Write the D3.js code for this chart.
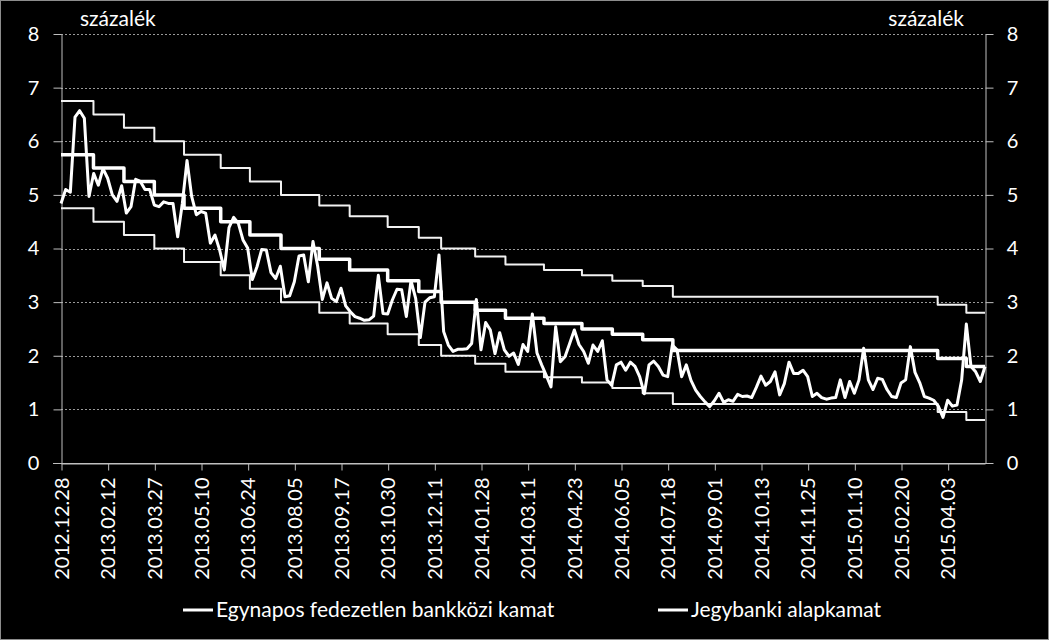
<!DOCTYPE html>
<html>
<head>
<meta charset="utf-8">
<script src="https://cdn.jsdelivr.net/npm/d3@7"></script>
<style>
  html, body { margin: 0; padding: 0; background: #000; }
  svg { display: block; }
  text { font-family: Lato, "Open Sans", sans-serif; fill: #ffffff; }
</style>
</head>
<body>
<svg id="chart" width="1049" height="640"></svg>
<script>
// ---------------- DATA ----------------
const tickLabels = ["2012.12.28","2013.02.12","2013.03.27","2013.05.10","2013.06.24","2013.08.05",
  "2013.09.17","2013.10.30","2013.12.11","2014.01.28","2014.03.11","2014.04.23","2014.06.05",
  "2014.07.18","2014.09.01","2014.10.13","2014.11.25","2015.01.10","2015.02.20","2015.04.03"];
const tickEvery = 30;          // trading days between axis labels
const lastDate = "2015.05.11";
const lastDayIndex = 594;

const policyDates = ["2012.12.28","2013.01.29","2013.02.27","2013.03.27","2013.04.24","2013.05.29",
  "2013.06.26","2013.07.24","2013.08.28","2013.09.25","2013.10.30","2013.11.27","2013.12.18",
  "2014.01.22","2014.02.19","2014.03.26","2014.04.30","2014.05.28","2014.06.25","2014.07.23",
  "2015.03.25","2015.04.22"];
const policyRates   = [5.75,5.50,5.25,5.00,4.75,4.50,4.25,4.00,3.80,3.60,3.40,3.20,3.00,2.85,2.70,2.60,2.50,2.40,2.30,2.10,1.95,1.80];
const corridorUpper = [6.75,6.50,6.25,6.00,5.75,5.50,5.25,5.00,4.80,4.60,4.40,4.20,4.00,3.85,3.70,3.60,3.50,3.40,3.30,3.10,2.95,2.80];
const corridorLower = [4.75,4.50,4.25,4.00,3.75,3.50,3.25,3.00,2.80,2.60,2.40,2.20,2.00,1.85,1.70,1.60,1.50,1.40,1.30,1.10,0.95,0.80];

const overnightStep = 3;       // trading days between readings
const overnightRates = [
  4.84,5.10,5.05,6.45,6.57,6.43,4.97,5.40,5.18,5.49,5.31,5.00,4.88,5.17,4.66,4.78,5.29,5.25,5.10,5.10,
  4.81,4.78,4.87,4.84,4.84,4.22,4.84,5.64,4.97,4.63,4.69,4.66,4.10,4.25,3.97,3.60,4.39,4.58,4.47,4.16,
  4.01,3.42,3.66,3.98,3.97,3.55,3.44,3.67,3.10,3.12,3.38,3.86,3.88,3.38,4.13,3.67,3.05,3.36,3.07,3.01,
  3.26,2.93,2.82,2.73,2.70,2.66,2.67,2.74,3.50,2.79,2.78,3.04,3.24,3.23,2.73,3.40,3.07,2.34,3.00,3.08,
  3.10,3.88,2.45,2.20,2.08,2.12,2.12,2.13,2.23,3.05,2.11,2.62,2.48,2.04,2.43,2.11,1.99,2.05,1.84,2.21,
  2.08,2.78,2.05,1.83,1.63,1.42,2.54,1.89,1.98,2.23,2.48,2.21,2.08,1.86,2.20,2.08,2.28,1.55,1.45,1.83,
  1.88,1.73,1.88,1.80,1.61,1.29,1.83,1.90,1.80,1.64,1.61,2.20,2.11,1.61,1.83,1.54,1.36,1.24,1.14,1.05,
  1.16,1.30,1.13,1.18,1.15,1.28,1.24,1.25,1.22,1.41,1.62,1.45,1.52,1.70,1.27,1.48,1.88,1.67,1.67,1.73,
  1.61,1.24,1.30,1.22,1.19,1.21,1.22,1.55,1.22,1.52,1.30,1.55,2.14,1.55,1.37,1.58,1.56,1.37,1.24,1.22,
  1.49,1.55,2.17,1.69,1.50,1.24,1.21,1.17,1.06,0.85,1.17,1.06,1.08,1.55,2.59,1.80,1.70,1.52,1.80
];

const yTicks = [0,1,2,3,4,5,6,7,8];
const unitLabel = "százalék";
const seriesNames = ["Egynapos fedezetlen bankközi kamat", "Jegybanki alapkamat"];

// ---------------- LAYOUT ----------------
const W = 1049, H = 640;
const plot = { left: 61, right: 985, top: 34, bottom: 463 };
const axisColor = "#bfbfbf";

const parse = d3.timeParse("%Y.%m.%d");
const tickDates = tickLabels.map(parse);

// calendar date -> trading-day position (piecewise between labelled dates)
const dayIndex = d3.scaleTime()
  .domain([...tickDates, parse(lastDate)])
  .range([...tickDates.map((d, i) => i * tickEvery), lastDayIndex]);

const x = d3.scaleLinear().domain([0, lastDayIndex]).range([plot.left, plot.right]);
const y = d3.scaleLinear().domain([0, 8]).range([plot.bottom, plot.top]);

const svg = d3.select("#chart");
svg.append("rect").attr("x", 0).attr("y", 0).attr("width", W).attr("height", H).attr("fill", "#000");
svg.append("rect").attr("x", 0.5).attr("y", 0.5).attr("width", W - 1).attr("height", H - 1)
  .attr("fill", "none").attr("stroke", "#8c8c8c").attr("stroke-width", 1);

// gridlines
svg.append("g").selectAll("line").data(yTicks.filter(v => v > 0)).join("line")
  .attr("x1", plot.left).attr("x2", plot.right)
  .attr("y1", d => Math.round(y(d)) + 0.5).attr("y2", d => Math.round(y(d)) + 0.5)
  .attr("stroke", "#9a9a9a").attr("stroke-width", 1).attr("stroke-dasharray", "2,2");

// y axes
function styleAxis(g) {
  g.selectAll("path.domain").attr("stroke", axisColor);
  g.selectAll(".tick line").attr("stroke", axisColor);
  g.selectAll(".tick text").style("font-size", "20px").attr("fill", "#fff");
}
const yLeft = svg.append("g").attr("transform", `translate(${plot.left + 0.5},0)`)
  .call(d3.axisLeft(y).tickValues(yTicks).tickFormat(d3.format("d")).tickSize(8).tickSizeOuter(0).tickPadding(14))
  .call(styleAxis);
yLeft.selectAll(".tick text").attr("text-anchor", "middle").attr("x", -28);
const yRight = svg.append("g").attr("transform", `translate(${plot.right + 0.5},0)`)
  .call(d3.axisRight(y).tickValues(yTicks).tickFormat(d3.format("d")).tickSize(8).tickSizeOuter(0).tickPadding(14))
  .call(styleAxis);
yRight.selectAll(".tick text").attr("text-anchor", "middle").attr("x", 27);

// x axis
const xTickVals = tickLabels.map((d, i) => i * tickEvery);
const xAxisG = svg.append("g").attr("transform", `translate(0,${plot.bottom + 0.5})`)
  .call(d3.axisBottom(x).tickValues(xTickVals).tickFormat((d, i) => tickLabels[i]).tickSize(7).tickSizeOuter(0))
  .call(styleAxis);
xAxisG.selectAll(".tick line").attr("transform", "translate(0.5,0)");
xAxisG.selectAll(".tick text")
  .attr("transform", "rotate(-90)")
  .attr("text-anchor", "end")
  .attr("x", -14).attr("y", 0).attr("dy", "0.36em");
// zero line extends under both outer ticks
svg.append("line").attr("x1", plot.left - 8).attr("x2", plot.right + 8)
  .attr("y1", plot.bottom + 0.5).attr("y2", plot.bottom + 0.5).attr("stroke", axisColor);

// unit labels
svg.append("text").attr("x", 80).attr("y", 26).style("font-size", "21px").text(unitLabel);
svg.append("text").attr("x", 964).attr("y", 26).attr("text-anchor", "end").style("font-size", "21px").text(unitLabel);

// series
const stepLine = d3.line().x(d => x(d[0])).y(d => y(d[1])).curve(d3.curveStepAfter);
function stepPoints(vals) {
  const pts = policyDates.map((d, i) => [dayIndex(parse(d)), vals[i]]);
  pts.push([lastDayIndex, vals[vals.length - 1]]);
  return pts;
}
const lines = svg.append("g").attr("fill", "none").attr("stroke-linejoin", "round");
lines.append("path").attr("d", stepLine(stepPoints(corridorUpper))).attr("stroke", "#f2f2f2").attr("stroke-width", 2);
lines.append("path").attr("d", stepLine(stepPoints(corridorLower))).attr("stroke", "#f2f2f2").attr("stroke-width", 2);
lines.append("path").attr("d", stepLine(stepPoints(policyRates))).attr("stroke", "#fff").attr("stroke-width", 3.5);

const onLine = d3.line().x(d => x(d[0])).y(d => y(d[1]));
lines.append("path").attr("d", onLine(overnightRates.map((v, k) => [k * overnightStep, v])))
  .attr("stroke", "#fff").attr("stroke-width", 3);

// legend
const legend = [
  { name: seriesNames[0], x: 183 },
  { name: seriesNames[1], x: 658 }
];
const lg = svg.append("g");
legend.forEach(l => {
  lg.append("line").attr("x1", l.x).attr("x2", l.x + 30).attr("y1", 610).attr("y2", 610)
    .attr("stroke", "#fff").attr("stroke-width", 3);
  lg.append("text").attr("x", l.x + 33).attr("y", 617).style("font-size", "21px").text(l.name);
});
</script>
</body>
</html>
